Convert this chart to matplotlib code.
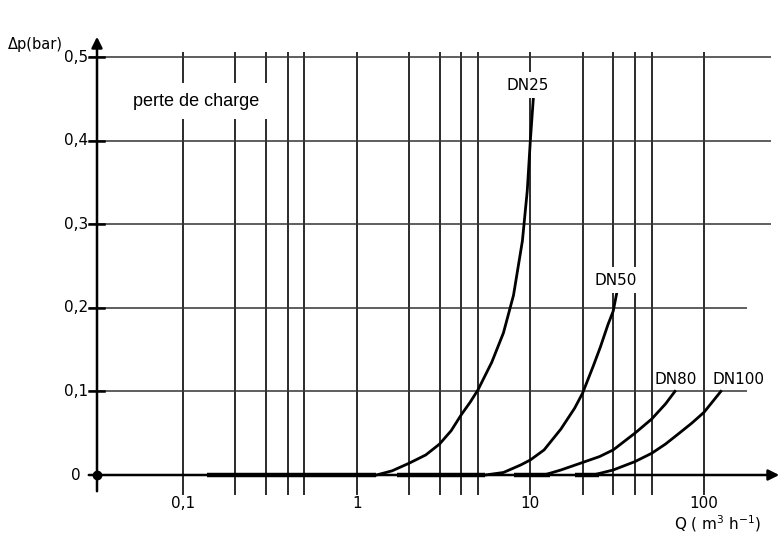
import numpy as np
import matplotlib.pyplot as plt

# Courbes de perte de charge
q_dn25 = [1.3, 1.6, 2, 2.5, 3, 3.5, 4, 4.5, 5, 6, 7, 8, 9, 9.6, 10, 10.4]
dp_dn25 = [0, 0.005, 0.014, 0.024, 0.037, 0.053, 0.072, 0.087, 0.102, 0.135, 0.17, 0.215, 0.28, 0.34, 0.40, 0.45]
q_dn50 = [5.5, 7, 8.8, 10, 12, 15, 18, 20, 23, 25.3, 28, 30, 31.6]
dp_dn50 = [0, 0.003, 0.012, 0.018, 0.03, 0.055, 0.08, 0.098, 0.13, 0.153, 0.18, 0.196, 0.22]
q_dn80 = [12, 15, 20, 25, 30, 40, 50, 60, 68]
dp_dn80 = [0, 0.006, 0.015, 0.022, 0.03, 0.05, 0.067, 0.085, 0.1]
q_dn100 = [23, 30, 40, 50, 60, 72, 85, 100, 125]
dp_dn100 = [0, 0.006, 0.016, 0.026, 0.037, 0.05, 0.062, 0.075, 0.1]

# segments épais sur l'axe (débit minimal)
base_debut = [0.137, 1.7, 8, 18]
base_fin = [1.3, 5.5, 13, 25]

grille_q = [0.1, 0.2, 0.3, 0.4, 0.5, 1, 2, 3, 4, 5, 10, 20, 30, 40, 50, 100]
grille_dp = [0.1, 0.2, 0.3, 0.4, 0.5]
ticks_q = [0.1, 1, 10, 100]
ticks_q_lab = ["0,1", "1", "10", "100"]
ticks_dp = [0, 0.1, 0.2, 0.3, 0.4, 0.5]
ticks_dp_lab = ["0", "0,1", "0,2", "0,3", "0,4", "0,5"]

# conversion pixels -> données (mise en page)
def px_x(p):
    return 10 ** (-1 + (p - 183) / 173.67)

def px_y(p):
    return (475 - p) / 836.0

fig = plt.figure(figsize=(7.83, 5.34), dpi=100)
ax = fig.add_axes([0, 0, 1, 1])
ax.set_xscale("log")
ax.set_xlim(px_x(0), px_x(783))
ax.set_ylim(px_y(534), px_y(0))
ax.axis("off")

x0 = px_x(97)
fnt = "DejaVu Sans"

# grille
ax.vlines(grille_q, px_y(495), px_y(52), color="#1a1a1a", lw=1.3, zorder=1)
for v in grille_dp:
    fin = px_x(747) if v <= 0.2 else px_x(771)
    ax.hlines(v, px_x(89), fin, color="#333333", lw=1.1, zorder=1)

# axes
ax.annotate("", xy=(x0, px_y(34)), xytext=(x0, px_y(494)),
            arrowprops=dict(arrowstyle="-|>", lw=1.8, color="black", mutation_scale=16), zorder=3)
ax.annotate("", xy=(px_x(782), 0), xytext=(px_x(86), 0),
            arrowprops=dict(arrowstyle="-|>", lw=1.8, color="black", mutation_scale=16), zorder=3)
ax.plot([x0], [0], "o", color="black", ms=6, zorder=4)
for v in ticks_dp[1:]:
    ax.plot([px_x(89), px_x(104)], [v, v], color="black", lw=1.8, zorder=3)

# courbes
for a, b in zip(base_debut, base_fin):
    ax.plot([a, b], [0, 0], color="black", lw=3.2, solid_capstyle="butt", zorder=4)
ax.plot(q_dn25, dp_dn25, color="black", lw=2, zorder=4)
ax.plot(q_dn50, dp_dn50, color="black", lw=2, zorder=4)
ax.plot(q_dn80, dp_dn80, color="black", lw=2, zorder=4)
ax.plot(q_dn100, dp_dn100, color="black", lw=2, zorder=4)

# étiquettes
for q, lab in zip(ticks_q, ticks_q_lab):
    ax.text(q, px_y(503), lab, ha="center", va="center", fontsize=11, family=fnt)
for v, lab in zip(ticks_dp, ticks_dp_lab):
    ax.text(px_x(88 if v > 0 else 81), v, lab, ha="right", va="center", fontsize=11, family=fnt)
ax.text(px_x(718), px_y(524), "Q ( m$^3$ h$^{-1}$)", ha="center", va="center", fontsize=11, family=fnt)
ax.text(px_x(8), px_y(44), "Δp(bar)", ha="left", va="center", fontsize=10.5, family=fnt)

box = dict(facecolor="white", edgecolor="none", boxstyle="square,pad=0.35")
ax.text(px_x(528), px_y(85), "DN25", ha="center", va="center", fontsize=11, family=fnt, bbox=box, zorder=5)
ax.text(px_x(616), px_y(280), "DN50", ha="center", va="center", fontsize=11, family=fnt, bbox=box, zorder=5)
ax.text(px_x(676), px_y(380), "DN80", ha="center", va="center", fontsize=11, family=fnt, zorder=5)
ax.text(px_x(739), px_y(380), "DN100", ha="center", va="center", fontsize=11, family=fnt, zorder=5)
ax.text(px_x(133), px_y(101), "perte de charge", ha="left", va="center", fontsize=13,
        family="Liberation Sans",
        bbox=dict(facecolor="white", edgecolor="none", boxstyle="square,pad=0.55"), zorder=5)

fig.savefig("out.png", dpi=100)
